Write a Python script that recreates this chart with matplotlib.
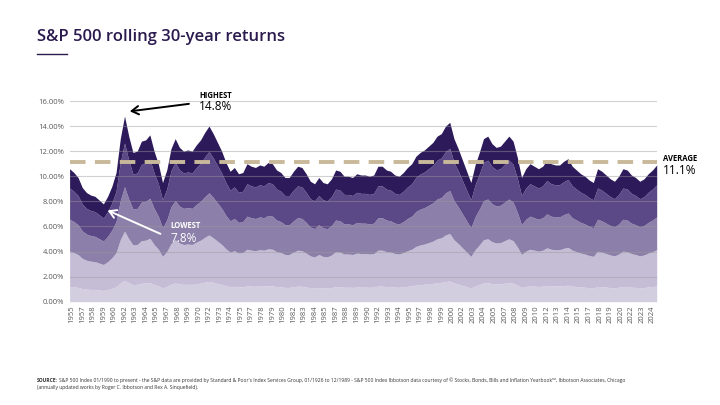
import numpy as np
import matplotlib
matplotlib.use('Agg')
import matplotlib.pyplot as plt

plt.rcParams['font.family'] = ['Open Sans', 'DejaVu Sans']

# rolling 30-year annualised return (%), read at half-year steps
start_year = 1955.5
returns = [
    10.6, 10.3, 9.9, 9.1, 8.7, 8.5, 8.4, 8.1, 7.8, 8.4,
    9.2, 10.3, 13.0, 14.8, 13.2, 11.9, 12.0, 12.8, 12.9, 13.3,
    12.0, 11.0, 9.5, 10.5, 12.2, 13.0, 12.3, 12.0, 12.1, 12.0,
    12.5, 12.9, 13.5, 14.0, 13.4, 12.7, 12.0, 11.1, 10.4, 10.7,
    10.2, 10.3, 11.0, 10.8, 10.7, 10.9, 10.8, 11.1, 11.0, 10.5,
    10.3, 9.9, 9.9, 10.4, 10.8, 10.7, 10.2, 9.6, 9.4, 9.9,
    9.5, 9.4, 9.8, 10.5, 10.4, 10.0, 10.0, 9.9, 10.2, 10.1,
    10.1, 10.0, 10.1, 10.8, 10.8, 10.5, 10.4, 10.1, 10.0, 10.3,
    10.7, 11.0, 11.6, 11.9, 12.1, 12.4, 12.7, 13.2, 13.4, 14.0,
    14.3, 13.0, 12.2, 11.3, 10.4, 9.5, 10.9, 11.9, 13.0, 13.2,
    12.6, 12.3, 12.4, 12.8, 13.2, 12.8, 11.5, 9.9, 10.6, 11.0,
    10.8, 10.6, 10.8, 11.3, 11.0, 10.9, 10.9, 11.2, 11.4, 10.8,
    10.5, 10.2, 10.0, 9.7, 9.5, 10.6, 10.4, 10.1, 9.8, 9.6,
    10.0, 10.6, 10.5, 10.1, 9.9, 9.6, 9.8, 10.2, 10.5, 10.9,
]
average = 11.1
highest = 14.8
lowest = 7.8

tick_labels = [
    '1955', '1957', '1958', '1959', '1960', '1962', '1963', '1964', '1965', '1967',
    '1968', '1969', '1970', '1972', '1973', '1974', '1975', '1977', '1978', '1979',
    '1980', '1982', '1983', '1984', '1985', '1987', '1988', '1989', '1990', '1992',
    '1993', '1994', '1995', '1997', '1998', '1999', '2000', '2002', '2003', '2004',
    '2005', '2007', '2008', '2009', '2010', '2012', '2013', '2014', '2015', '2017',
    '2018', '2019', '2020', '2022', '2023', '2024',
]

# shading bands as share of the return (bottom to top)
band_share = [0.0, 0.115, 0.38, 0.62, 0.855, 1.0]
band_colors = ['#d3cde0', '#c5bdd6', '#8c80aa', '#5b4886', '#2d1a5b']

W, H = 720, 405
fig = plt.figure(figsize=(7.2, 4.05), dpi=100)


def fx(px):
    return px / W


def fy(py):
    return 1 - py / H


ax = fig.add_axes([fx(69.6), fy(301.7), (656.7 - 69.6) / W, (301.7 - 101) / H])

t = start_year + 0.5 * np.arange(len(returns))
v = np.array(returns)
for k in range(len(band_colors)):
    ax.fill_between(t, band_share[k] * v, band_share[k + 1] * v,
                    color=band_colors[k], lw=0, zorder=1)

for g in np.arange(0, 16.01, 2):
    ax.axhline(g, color='#9a9a9a', alpha=0.45, lw=0.8, zorder=2)

ax.axhline(average, color='#c9b99b', lw=2.8, dashes=(4.0, 2.4), zorder=3)

ax.set_xlim(t[0], t[-1])
ax.set_ylim(0, 16)
ax.set_yticks(np.arange(0, 16.01, 2))
ax.set_yticklabels([f'{g:.2f}%' for g in np.arange(0, 16.01, 2)])
ax.set_xticks(1955.75 + 1.25 * np.arange(len(tick_labels)))
ax.set_xticklabels(tick_labels, rotation=90)
ax.tick_params(axis='both', length=0, labelsize=5.5, labelcolor='#595959')
ax.tick_params(axis='x', pad=3)
ax.tick_params(axis='y', pad=4)
for s in ax.spines.values():
    s.set_visible(False)

# annotations
ax.annotate('', xy=(1962.3, 15.15), xytext=(1969.95, 15.8),
            arrowprops=dict(arrowstyle='->,head_length=0.5,head_width=0.3',
                            color='black', lw=1.4),
            zorder=5, annotation_clip=False)
fig.text(fx(199), fy(95), 'HIGHEST', fontsize=5.5, fontweight='bold',
         color='black', va='center')
fig.text(fx(199), fy(107), f'{highest}%', fontsize=8.5, color='black',
         va='center')

ax.annotate('', xy=(1959.7, 7.37), xytext=(1966.55, 5.32),
            arrowprops=dict(arrowstyle='->,head_length=0.5,head_width=0.3',
                            color='white', lw=1.4),
            zorder=5)
fig.text(fx(170), fy(225), 'LOWEST', fontsize=5.5, fontweight='bold',
         color='white', va='center')
fig.text(fx(170), fy(238), f'{lowest}%', fontsize=8.5, color='white',
         va='center')

fig.text(fx(663), fy(158), 'AVERAGE', fontsize=5.5, fontweight='bold',
         color='black', va='center')
fig.text(fx(663), fy(170.5), f'{average}%', fontsize=8.5, color='black',
         va='center')

# title
fig.text(fx(37), fy(37), 'S&P 500 rolling 30-year returns', fontsize=12,
         fontweight='semibold', color='#2a1a4e', va='center')
fig.add_artist(plt.Line2D([fx(37), fx(67)], [fy(53.5), fy(53.5)],
                          color='#2a1a4e', lw=1))

# source note
fig.text(fx(37), fy(380), 'SOURCE:', fontsize=3.6, fontweight='bold',
         color='#333333', va='center')
fig.text(fx(59), fy(380),
         "S&P 500 Index 01/1990 to present - the S&P data are provided by Standard & Poor's "
         "Index Services Group, 01/1926 to 12/1989 - S&P 500 Index Ibbotson data courtesy of "
         "\u00a9 Stocks, Bonds, Bills and Inflation Yearbook\u2122, Ibbotson Associates, Chicago",
         fontsize=3.6, color='#333333', va='center')
fig.text(fx(37), fy(387.5),
         '(annually updated works by Roger C. Ibbotson and Rex A. Sinquefield).',
         fontsize=3.6, color='#333333', va='center')

fig.savefig('out.png', dpi=100)
